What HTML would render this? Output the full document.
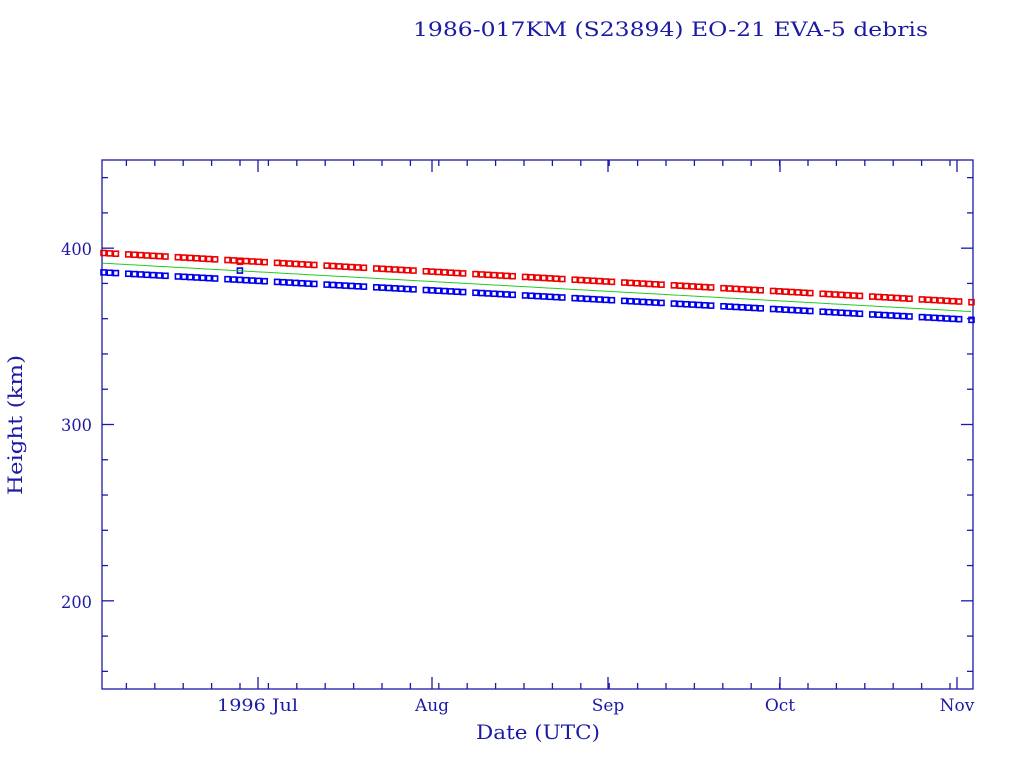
<!DOCTYPE html>
<html><head><meta charset="utf-8"><style>
html,body{margin:0;padding:0;background:#fff;width:1024px;height:768px;overflow:hidden}
svg text{font-family:"DejaVu Serif","Liberation Serif",serif;fill:#1a1aa6}
</style></head><body>
<svg id="s" width="1024" height="768" xmlns="http://www.w3.org/2000/svg">
<text x="413" y="36" font-size="20" textLength="515" lengthAdjust="spacingAndGlyphs">1986-017KM (S23894) EO-21 EVA-5 debris</text>
<rect x="102" y="160" width="871" height="529" fill="none" stroke="#1a1aa6" stroke-width="1.3"/>
<g id="ax" stroke="#1a1aa6" stroke-width="1.3"></g>
<g id="dat"></g>
<text x="61" y="255" font-size="17" textLength="31" lengthAdjust="spacingAndGlyphs">400</text>
<text x="61" y="431" font-size="17" textLength="31" lengthAdjust="spacingAndGlyphs">300</text>
<text x="61" y="608" font-size="17" textLength="31" lengthAdjust="spacingAndGlyphs">200</text>
<text x="217" y="711" font-size="17" textLength="81" lengthAdjust="spacingAndGlyphs">1996 Jul</text>
<text x="432" y="711" font-size="17" text-anchor="middle">Aug</text>
<text x="608" y="711" font-size="17" text-anchor="middle">Sep</text>
<text x="780" y="711" font-size="17" text-anchor="middle">Oct</text>
<text x="957" y="711" font-size="17" text-anchor="middle">Nov</text>
<text x="476" y="739" font-size="20" textLength="124" lengthAdjust="spacingAndGlyphs">Date (UTC)</text>
<text transform="translate(22,495) rotate(-90)" font-size="20" textLength="140" lengthAdjust="spacingAndGlyphs">Height (km)</text>
</svg>
<script>
var ax=document.getElementById('ax'),d=document.getElementById('dat'),h='';
function Y(v){return 689-(v-150)*529/300;}
for(var v=160;v<450;v+=20){var y=Y(v),L=(v%100==0)?12:6;h+='<line x1="102" y1="'+y+'" x2="'+(102+L)+'" y2="'+y+'"/><line x1="973" y1="'+y+'" x2="'+(973-L)+'" y2="'+y+'"/>';}
[258,432,608,780,957].forEach(function(x){h+='<line x1="'+x+'" y1="689" x2="'+x+'" y2="677"/><line x1="'+x+'" y1="160" x2="'+x+'" y2="172"/>';});
for(var x=950;x>102;x-=28.4){h+='<line x1="'+x+'" y1="689" x2="'+x+'" y2="683"/><line x1="'+x+'" y1="160" x2="'+x+'" y2="166"/>';}
ax.innerHTML=h;
var g='',pts=[],i=0;
for(var x=103;x<=972;x+=6.2,i++){
 var t=(x-102)/871;
 var r=397-28*t, b=386-27*t;
 pts.push(x+','+Y(391.5-27.5*t));
 if(i%8==3)continue;
 if(x>235&&x<242){g+='<rect x="'+(x-2)+'" y="'+(Y(392)-3)+'" width="5" height="5" fill="none" stroke="#e00" stroke-width="1.6"/><rect x="'+(x-2)+'" y="'+(Y(387)-3)+'" width="5" height="5" fill="none" stroke="#00e" stroke-width="1.6"/>';}
 g+='<rect x="'+(x-2)+'" y="'+(Y(r)-3)+'" width="5" height="5" fill="none" stroke="#e00" stroke-width="1.6"/>';
 g+='<rect x="'+(x-2)+'" y="'+(Y(b)-3)+'" width="5" height="5" fill="none" stroke="#00e" stroke-width="1.6"/>';
}
g+='<polyline points="'+pts.join(' ')+'" fill="none" stroke="#2c2" stroke-width="1"/>';
d.innerHTML=g;
</script>
</body></html>
